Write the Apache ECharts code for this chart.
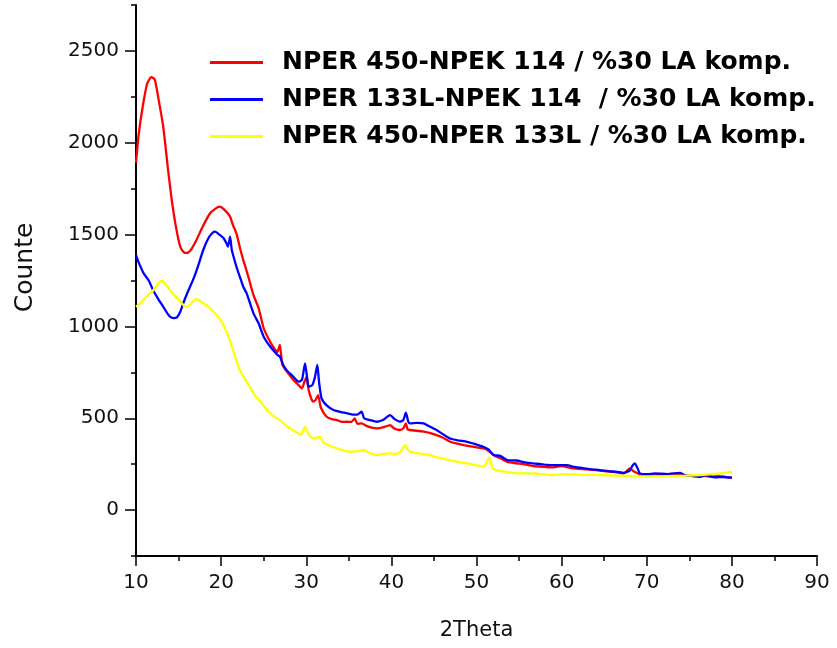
<!DOCTYPE html>
<html>
	<head>
		<meta charset="utf-8">
		<title>XRD</title>
		<style type="text/css">
			html, body {
				margin: 0;
				padding: 0;
				background: #fff;
			}
			#chart {
				width: 837px;
				height: 648px;
			}
		</style>
	</head>
	<body>
		<div id="chart"></div>
		<script src="https://cdn.jsdelivr.net/npm/echarts@6.0.0/dist/echarts.min.js"></script>
		<script type="text/javascript">
			// legend names
			var seriesNames = [
				'NPER 450-NPEK 114 / %30 LA komp.',
				'NPER 133L-NPEK 114  / %30 LA komp.',
				'NPER 450-NPER 133L / %30 LA komp.'
			];
			var seriesColors = ['#ff0000', '#0000ff', '#ffff00'];

			// red curve
			var thetaRed = [10.0, 10.3, 10.8, 11.3, 11.8, 12.2, 12.6, 13.2, 13.7, 14.2, 14.7, 15.2, 15.6, 16.0, 16.5, 17.1, 17.8, 18.7, 19.3, 19.8,
				20.4, 21.05, 21.4, 21.8, 22.2, 22.6, 23.2, 23.8, 24.4, 25.0, 25.6, 26.1, 26.6, 26.9, 27.2, 27.8, 28.5, 29.1, 29.5, 29.8,
				30.06, 30.3, 30.8, 31.1, 31.4, 31.7, 32.4, 33.0, 33.6, 34.2, 34.8, 35.3, 35.7, 36.0, 36.5, 37.0, 37.6, 38.3, 39.0, 39.85,
				40.3, 41.0, 41.4, 41.7, 41.9, 42.2, 43.0, 43.8, 44.5, 45.3, 46.0, 46.9, 47.5, 48.5, 49.5, 50.2, 50.8, 51.2, 52.0, 52.8,
				53.6, 54.7, 55.5, 56.7, 58.0, 59.0, 60.0, 61.0, 62.0, 63.0, 64.5, 65.5, 66.5, 67.3, 68.0, 68.5, 69.2, 70.0, 71.0, 72.4,
				73.5, 74.5, 75.5, 76.5, 77.5, 78.5, 79.3, 80.0];
			var countsRed = [1890, 2040, 2200, 2320, 2357, 2345, 2250, 2088, 1880, 1688, 1540, 1434, 1405, 1400, 1420, 1470, 1540, 1616, 1640, 1652,
				1635, 1598, 1550, 1507, 1430, 1362, 1270, 1170, 1100, 990, 930, 890, 860, 899, 790, 750, 708, 680, 663, 700,
				726, 650, 590, 600, 626, 560, 508, 495, 490, 480, 481, 480, 499, 470, 472, 460, 450, 445, 450, 463,
				445, 436, 445, 472, 440, 436, 432, 427, 420, 408, 395, 372, 365, 354, 345, 340, 336, 330, 300, 282,
				263, 255, 250, 240, 235, 232, 240, 230, 225, 222, 215, 210, 205, 200, 227, 210, 195, 192, 195, 190,
				195, 190, 185, 188, 182, 185, 180, 178];

			// blue curve
			var thetaBlue = [10.0, 10.3, 10.9, 11.5, 12.0, 12.6, 13.2, 13.7, 14.0, 14.4, 14.8, 15.2, 15.55, 16.1, 16.7, 17.3, 17.9, 18.5, 19.0, 19.3,
				19.8, 20.3, 20.6, 20.8, 21.05, 21.25, 21.4, 21.8, 22.2, 22.6, 23.0, 23.8, 24.4, 25.0, 25.6, 26.1, 26.5, 26.9, 27.3, 27.7,
				28.4, 29.1, 29.5, 29.86, 30.1, 30.25, 30.7, 31.0, 31.3, 31.5, 31.8, 32.4, 33.2, 34.0, 34.8, 35.5, 36.0, 36.5, 36.8, 37.5,
				38.3, 39.0, 39.85, 40.4, 41.0, 41.4, 41.7, 42.0, 42.2, 43.0, 43.8, 44.5, 45.3, 46.0, 46.9, 47.8, 48.9, 49.8, 50.8, 51.4,
				52.0, 52.8, 53.6, 54.7, 55.7, 56.7, 58.0, 59.0, 60.6, 61.5, 62.5, 63.5, 64.5, 65.5, 66.5, 67.3, 68.0, 68.3, 68.6, 68.9,
				69.2, 70.0, 71.0, 72.4, 73.9, 74.5, 75.5, 76.3, 77.0, 78.0, 79.0, 80.0];
			var countsBlue = [1390, 1350, 1289, 1250, 1198, 1150, 1107, 1070, 1053, 1045, 1049, 1080, 1126, 1190, 1253, 1330, 1416, 1480, 1510, 1516,
				1500, 1480, 1455, 1434, 1489, 1416, 1390, 1325, 1270, 1216, 1180, 1071, 1017, 944, 900, 871, 850, 835, 790, 762,
				730, 699, 710, 799, 720, 672, 680, 720, 790, 700, 608, 570, 545, 535, 527, 520, 520, 536, 500, 490,
				481, 490, 517, 495, 481, 490, 530, 480, 472, 475, 472, 455, 436, 415, 390, 380, 372, 360, 345, 330,
				300, 295, 272, 270, 260, 254, 248, 245, 245, 235, 228, 222, 218, 212, 208, 203, 215, 240, 254, 230,
				200, 195, 200, 196, 203, 190, 185, 181, 190, 178, 180, 175];

			// yellow curve
			var thetaYellow = [10.0, 10.6, 11.2, 11.6, 12.0, 12.5, 13.0, 13.5, 14.0, 14.6, 15.2, 15.6, 15.95, 16.5, 17.05, 17.5, 17.9, 18.3, 18.7, 19.3,
				19.9, 20.5, 21.05, 21.6, 22.2, 23.0, 23.8, 24.6, 25.4, 26.2, 26.9, 27.5, 28.1, 28.8, 29.4, 29.86, 30.3, 30.8, 31.2, 31.6,
				32.0, 32.8, 33.6, 34.4, 35.1, 35.9, 36.7, 37.5, 38.3, 39.0, 39.85, 40.5, 41.1, 41.6, 41.9, 42.2, 43.0, 44.5, 45.5, 46.9,
				47.8, 48.9, 49.8, 50.8, 51.2, 51.5, 51.8, 52.2, 53.0, 54.7, 56.7, 58.6, 60.6, 62.5, 64.5, 66.5, 68.4, 70.5, 72.4, 74.5,
				76.3, 78.5, 80.0];
			var countsYellow = [1107, 1130, 1160, 1180, 1195, 1225, 1249, 1230, 1198, 1165, 1135, 1115, 1107, 1125, 1148, 1140, 1126, 1115, 1099, 1070,
				1035, 985, 920, 840, 762, 700, 636, 590, 545, 510, 490, 465, 445, 425, 410, 454, 410, 390, 395, 399,
				370, 350, 336, 325, 318, 320, 327, 310, 300, 305, 309, 305, 320, 354, 330, 318, 310, 300, 285, 272,
				262, 254, 245, 236, 260, 287, 240, 218, 212, 200, 200, 191, 196, 192, 191, 188, 185, 183, 185, 188,
				191, 198, 209];

			// axis ticks
			var yMajorTicks = [0, 500, 1000, 1500, 2000, 2500];

			var pairs = function(xs, ys) {
				var out = [];
				for (var i = 0; i < xs.length; i++) {
					out.push([xs[i], ys[i]]);
				}
				return out;
			};

			var curves = [
				pairs(thetaRed, countsRed),
				pairs(thetaBlue, countsBlue),
				pairs(thetaYellow, countsYellow)
			];

			var series = [];
			for (var i = 0; i < curves.length; i++) {
				series.push({
					name: seriesNames[i],
					type: 'line',
					data: curves[i],
					symbol: 'none',
					smooth: 0.2,
					color: seriesColors[i],
					lineStyle: {
						color: seriesColors[i],
						width: 2.3
					}
				});
			}

			var labelFont = {
				color: '#111',
				fontFamily: 'DejaVu Sans',
				fontSize: 20
			};

			var chart = echarts.init(document.getElementById('chart'));
			chart.setOption({
				backgroundColor: '#fff',
				animation: false,
				grid: {
					left: 136,
					right: 20,
					top: 5,
					bottom: 92
				},
				legend: {
					orient: 'vertical',
					left: 205,
					top: 44,
					icon: 'rect',
					itemWidth: 53,
					itemHeight: 3,
					itemGap: 10,
					data: seriesNames,
					textStyle: {
						color: '#000',
						fontFamily: 'DejaVu Sans',
						fontWeight: 'bold',
						fontSize: 25,
						lineHeight: 27,
						padding: [0, 0, 0, 14]
					}
				},
				xAxis: {
					type: 'value',
					min: 10,
					max: 90,
					interval: 10,
					name: '2Theta',
					nameLocation: 'middle',
					nameGap: 64,
					nameTextStyle: {
						color: '#111',
						fontFamily: 'DejaVu Sans',
						fontSize: 21
					},
					axisLine: {
						show: true,
						onZero: false,
						lineStyle: { color: '#000', width: 2 }
					},
					axisTick: {
						show: true,
						length: 10,
						lineStyle: { color: '#000', width: 1.5 }
					},
					minorTick: {
						show: true,
						splitNumber: 2,
						length: 5,
						lineStyle: { color: '#000', width: 1.5 }
					},
					axisLabel: Object.assign({ margin: 17 }, labelFont),
					splitLine: { show: false }
				},
				yAxis: [{
					type: 'value',
					min: -250,
					max: 2750,
					interval: 250,
					name: 'Counte',
					nameLocation: 'middle',
					nameGap: 98,
					nameRotate: 90,
					nameTextStyle: {
						color: '#111',
						fontFamily: 'DejaVu Sans',
						fontSize: 25,
						padding: [0, 0, 0, 26]
					},
					axisLine: {
						show: true,
						onZero: false,
						lineStyle: { color: '#000', width: 2 }
					},
					axisTick: {
						show: true,
						length: 5,
						lineStyle: { color: '#000', width: 1.5 }
					},
					axisLabel: Object.assign({
						margin: 17,
						formatter: function(v) {
							return v % 500 === 0 ? v : '';
						}
					}, labelFont),
					splitLine: { show: false }
				}, {
					// longer ticks at labelled values
					type: 'value',
					min: -250,
					max: 2750,
					position: 'left',
					axisLine: { show: false },
					axisLabel: { show: false },
					axisTick: {
						show: true,
						length: 11,
						customValues: yMajorTicks,
						lineStyle: { color: '#000', width: 1.5 }
					},
					splitLine: { show: false }
				}],
				series: series
			});
		</script>
	</body>
</html>
